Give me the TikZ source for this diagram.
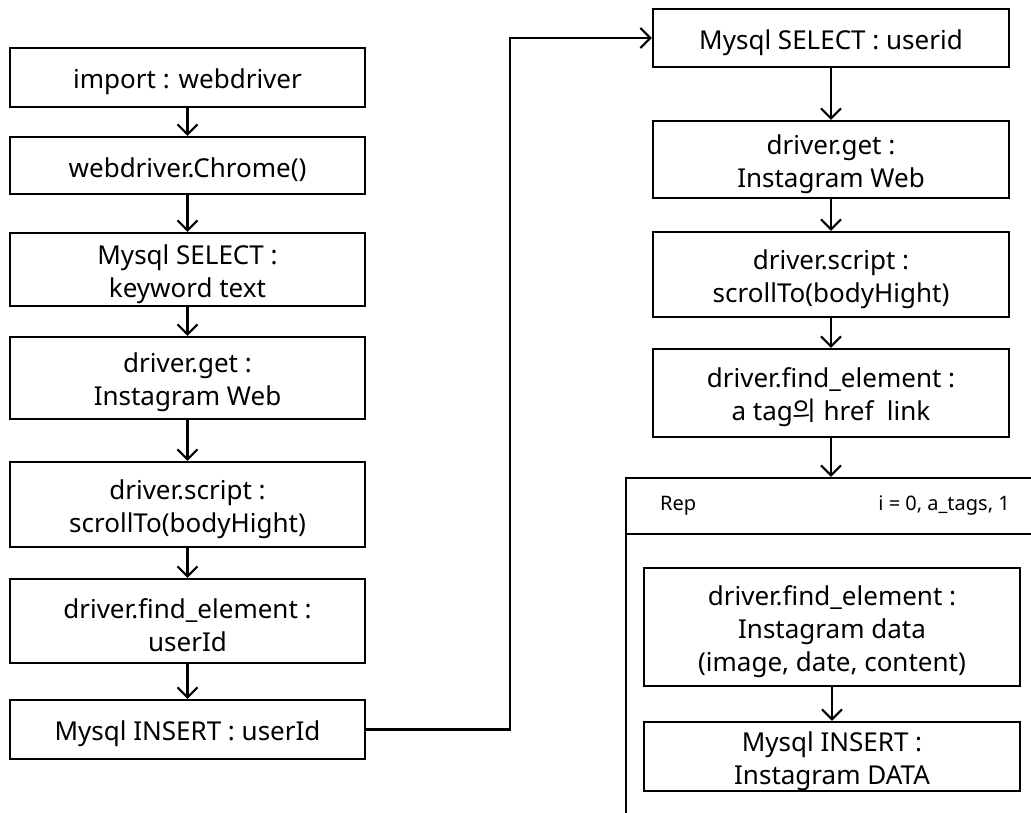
\documentclass[tikz,border=0pt]{standalone}
\usepackage{fontspec}
\setmainfont{Noto Sans}
\newfontfamily\kr{Noto Sans CJK KR}
\usetikzlibrary{arrows.meta}
\newcommand\lowr{\rule{0pt}{29pt}}
\tikzset{
  stepbox/.style={draw, line width=2.2pt, rectangle, align=center, inner sep=0pt,
    font=\fontsize{26}{33}\selectfont},
  flow/.style={line width=2.2pt, -{Straight Barb[length=10pt,width=20pt,line width=2.2pt]}},
  hdr/.style={font=\fontsize{20}{24}\selectfont, inner sep=0pt}
}
\begin{document}
\begin{tikzpicture}[x=1pt,y=-1pt]
\useasboundingbox (0,0) rectangle (1031,813);
\clip (0,0) rectangle (1031,813);
% left column
\node[stepbox, minimum width=355pt, minimum height=59pt] (l1) at (187.5,77.5) {\lowr import : webdriver};
\node[stepbox, minimum width=355pt, minimum height=57pt] (l2) at (187.5,165.5) {\lowr webdriver.Chrome()};
\node[stepbox, minimum width=355pt, minimum height=73pt] (l3) at (187.5,269.5) {\lowr Mysql SELECT :\\keyword text};
\node[stepbox, minimum width=355pt, minimum height=82pt] (l4) at (187.5,378) {\lowr driver.get :\\Instagram Web};
\node[stepbox, minimum width=355pt, minimum height=85pt] (l5) at (187.5,504.5) {\lowr driver.script :\\scrollTo(bodyHight)};
\node[stepbox, minimum width=355pt, minimum height=84pt] (l6) at (187.5,621) {\lowr driver.find\_element :\\userId};
\node[stepbox, minimum width=355pt, minimum height=59pt] (l7) at (187.5,729.5) {\lowr Mysql INSERT : userId};
\draw[flow] (l1) -- (l2);
\draw[flow] (l2) -- (l3);
\draw[flow] (l3) -- (l4);
\draw[flow] (l4) -- (l5);
\draw[flow] (l5) -- (l6);
\draw[flow] (l6) -- (l7);
% right column
\node[stepbox, minimum width=356pt, minimum height=58pt] (r1) at (831,38) {\lowr Mysql SELECT : userid};
\node[stepbox, minimum width=356pt, minimum height=77pt] (r2) at (831,159.5) {\lowr driver.get :\\Instagram Web};
\node[stepbox, minimum width=356pt, minimum height=85pt] (r3) at (831,274.5) {\lowr driver.script :\\scrollTo(bodyHight)};
\node[stepbox, minimum width=356pt, minimum height=88pt] (r4) at (831,393) {\lowr driver.find\_element :\\a tag{\kr 의} href\ \ link};
% repeat frame
\node[draw, line width=2.2pt, rectangle, inner sep=0pt, minimum width=424pt, minimum height=362pt] (rep) at (838,659) {};
\coordinate (div) at (626,534);
\draw[line width=2.2pt] (div) -- (div -| rep.east);
\node[hdr, anchor=west] (replabel) at (660,506) {Rep};
\node[hdr, anchor=east] (repcond) at (1010,506) {i = 0, a\_tags, 1};
\node[stepbox, minimum width=376pt, minimum height=118pt] (i1) at (832,627) {\lowr driver.find\_element :\\Instagram data\\(image, date, content)};
\node[stepbox, minimum width=376pt, minimum height=69pt] (i2) at (832,756.5) {\lowr Mysql INSERT :\\Instagram DATA};
\draw[flow] (r1) -- (r2);
\draw[flow] (r2) -- (r3);
\draw[flow] (r3) -- (r4);
\draw[flow] (r4.south) -- (r4.south |- rep.north);
\draw[flow] (i1) -- (i2);
% link between columns
\coordinate (bend) at (510,729.5);
\draw[flow] (l7.east) -- (bend) |- (r1.west);
\end{tikzpicture}
\end{document}
